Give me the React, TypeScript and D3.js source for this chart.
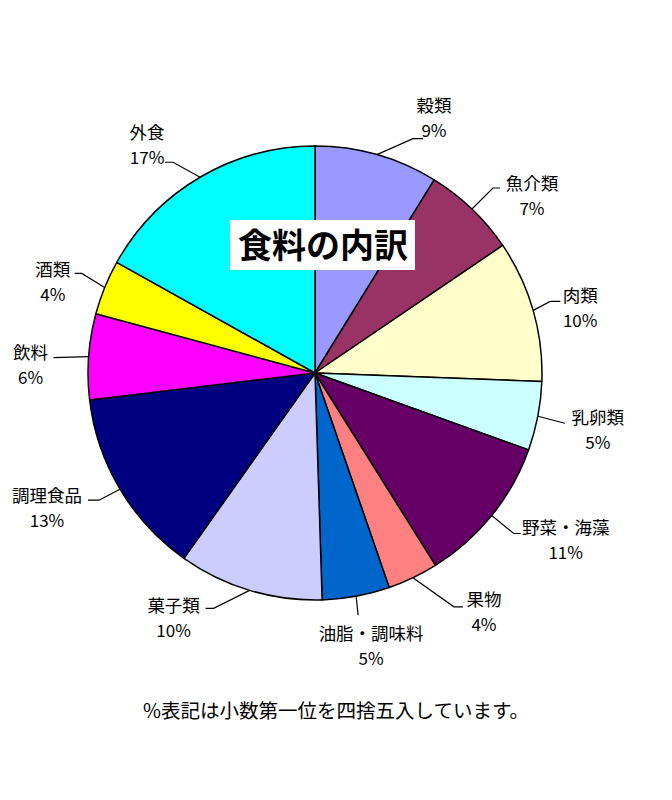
import React from "react";
import * as d3 from "d3";

const categories = ["穀類", "魚介類", "肉類", "乳卵類", "野菜・海藻", "果物", "油脂・調味料", "菓子類", "調理食品", "飲料", "酒類", "外食"];
const values = [8.8, 6.7, 10.1, 4.9, 10.6, 3.6, 4.8, 10.3, 13.3, 6.1, 3.9, 16.9];
const colors = ["#9999FF", "#993366", "#FFFFCC", "#CCFFFF", "#660066", "#FF8080", "#0066CC", "#CCCCFF", "#000080", "#FF00FF", "#FFFF00", "#00FFFF"];
const title = "食料の内訳";
const footnote = "%表記は小数第一位を四捨五入しています。";

// label layout: offsets relative to slice edge point
type LL = { elbow: [number, number] | null; end: [number, number]; text: [number, number] };
const labelLayout: LL[] = [
  { elbow: [36, -16], end: [46, -16], text: [57, -49] },
  { elbow: [21, -21], end: [28, -21], text: [60, -26] },
  { elbow: [17, -9], end: [27, -9], text: [47, -15] },
  { elbow: null, end: [27, 7], text: [60, 1] },
  { elbow: [22, 18], end: [29, 18], text: [74, 12] },
  { elbow: [41, 29], end: [50, 29], text: [71, 22] },
  { elbow: null, end: [2, 19], text: [15, 37] },
  { elbow: [-36, 18], end: [-44, 18], text: [-76, 15] },
  { elbow: [-21, 11], end: [-32, 11], text: [-73, 6] },
  { elbow: null, end: [-35, 1], text: [-58, -4] },
  { elbow: [-23, -14], end: [-30, -14], text: [-52, -18] },
  { elbow: [-27, -15], end: [-35, -15], text: [-53, -45] },
];

export default function App() {
  const W = 672, H = 800;
  const cx = 315, cy = 373, r = 227;
  const font = "'Noto Sans CJK JP', 'Noto Sans', sans-serif";
  const pie = d3.pie<number>().sort(null).value((d) => d)(values);
  const arc = d3.arc<d3.PieArcDatum<number>>().innerRadius(0).outerRadius(r);
  const total = d3.sum(values);

  return (
    <svg width={W} height={H} style={{ position: "absolute", left: 0, top: 0, background: "#fff" }}>
      <rect x={0} y={0} width={W} height={H} fill="#fff" />
      <g transform={`translate(${cx},${cy})`}>
        {pie.map((p, i) => (
          <path key={i} d={arc(p) || ""} fill={colors[i]} stroke="#000" strokeWidth={1.5} strokeLinejoin="round" />
        ))}
        {pie.map((p, i) => {
          const a = (p.startAngle + p.endAngle) / 2;
          const ex = r * Math.sin(a), ey = -r * Math.cos(a);
          const L = labelLayout[i];
          const pts: [number, number][] = [[ex, ey]];
          if (L.elbow) pts.push([ex + L.elbow[0], ey + L.elbow[1]]);
          pts.push([ex + L.end[0], ey + L.end[1]]);
          const tx = ex + L.text[0], ty = ey + L.text[1];
          const pct = Math.round((values[i] / total) * 100) + "%";
          return (
            <g key={"l" + i}>
              <polyline points={pts.map((q) => q.join(",")).join(" ")} fill="none" stroke="#000" strokeWidth={1.2} />
              <text x={tx} y={ty + 6.5} textAnchor="middle" fontFamily={font} fontSize={17.5} fill="#000">{categories[i]}</text>
              <text x={tx} y={ty + 31.5} textAnchor="middle" fontFamily={font} fontSize={17} fill="#000">{pct}</text>
            </g>
          );
        })}
      </g>
      <rect x={230} y={220} width={185} height={50} fill="#fff" />
      <text x={323} y={258} textAnchor="middle" fontFamily={font} fontSize={34} fontWeight="bold" fill="#000">{title}</text>
      <text x={336} y={718} textAnchor="middle" fontFamily={font} fontSize={19.5} fill="#000">{footnote}</text>
    </svg>
  );
}
